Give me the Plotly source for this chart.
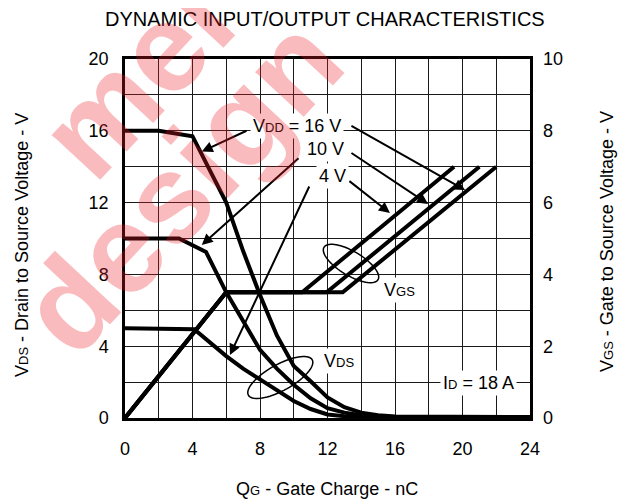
import numpy as np
import plotly.graph_objects as go

# ---------------- data ----------------
qg_vds_16 = [0, 2, 4, 6, 7, 8, 9, 10, 11, 12, 13, 14, 15, 16, 24]
vds_16 = [16, 16, 15.7, 12, 9.3, 6.85, 4.6, 2.9, 2.05, 1.15, 0.6, 0.3, 0.15, 0.08, 0.05]

qg_vds_10 = [0, 2, 3.2, 4.8, 6, 7, 8, 9, 10, 11, 12, 13, 14, 16, 24]
vds_10 = [10, 10, 10, 9.25, 7.0, 5.4, 3.8, 2.75, 1.85, 1.1, 0.55, 0.3, 0.15, 0.06, 0.05]

qg_vds_4 = [0, 2, 4.1, 6, 7, 8, 9, 10, 11, 12, 13, 14, 16, 24]
vds_4 = [5, 5, 4.95, 3.45, 2.75, 2.15, 1.55, 0.95, 0.5, 0.2, 0.1, 0.06, 0.05, 0.05]

qg_vgs_4 = [0, 6, 10.5, 19.5]
qg_vgs_10 = [0, 6, 11.95, 21.0]
qg_vgs_16 = [0, 6, 12.9, 22.0]
vgs_vals = [0, 3.5, 3.5, 7.0]

x_ticks = [0, 4, 8, 12, 16, 20, 24]
yl_ticks = [0, 4, 8, 12, 16, 20]
yr_ticks = [0, 2, 4, 6, 8, 10]

FONT = "Liberation Sans, Arial, sans-serif"
SUB = "<span style='font-size:13px'>%s</span>"

# page offset of the plotly div (body margin)
OFF = 8
# plot-area geometry on the page (pixels) used for decoration shapes
L, R, T, B = 125, 530, 59, 418
W, H = 629 - OFF, 504 - OFF
pxx = (R - L) / 24.0
pxy = (B - T) / 20.0

fig = go.Figure()
line = dict(color="black", width=4)
for xs, ys in [(qg_vds_16, vds_16), (qg_vds_10, vds_10), (qg_vds_4, vds_4)]:
    fig.add_trace(go.Scatter(x=xs, y=ys, mode="lines", line=line, yaxis="y",
                             showlegend=False, hoverinfo="skip"))
for xs in [qg_vgs_4, qg_vgs_10, qg_vgs_16]:
    fig.add_trace(go.Scatter(x=xs, y=vgs_vals, mode="lines", line=line, yaxis="y2",
                             showlegend=False, hoverinfo="skip"))


def ellipse_path(cx, cy, a, b, theta_deg):
    th = np.radians(theta_deg)
    t = np.linspace(0, 2 * np.pi, 73)
    sx = cx + a * np.cos(t) * np.cos(th) - b * np.sin(t) * np.sin(th)
    sy = cy + a * np.cos(t) * np.sin(th) + b * np.sin(t) * np.cos(th)
    xd = (sx - L) / pxx
    yd = (B - sy) / pxy
    pts = ["%s%.4f,%.4f" % ("M" if i == 0 else "L", xd[i], yd[i]) for i in range(len(t))]
    return " ".join(pts) + " Z"


shapes = [
    dict(type="path", xref="x", yref="y", path=ellipse_path(351, 263.5, 31.5, 12, 31),
         line=dict(color="black", width=1.5)),
    dict(type="path", xref="x", yref="y", path=ellipse_path(280.3, 377.5, 36.5, 13, -29),
         line=dict(color="black", width=1.5)),
]

ann = []
# arrows (head x,y ; tail ax,ay)
arrows = [
    (4.55, 14.84, 7.29, 16.04, "y"),
    (4.55, 9.64, 10.37, 14.54, "y"),
    (6.22, 3.51, 10.96, 12.98, "y"),
    (20.15, 6.35, 13.33, 8.16, "y2"),
    (17.96, 5.96, 13.33, 7.41, "y2"),
    (15.70, 5.71, 13.21, 6.63, "y2"),
]
for x, y, ax, ay, yr in arrows:
    ann.append(dict(x=x, y=y, ax=ax, ay=ay, xref="x", yref=yr, axref="x", ayref=yr,
                    text="", showarrow=True, arrowhead=2, arrowsize=1.1, arrowwidth=2,
                    arrowcolor="black", standoff=0))

lab_font = dict(family=FONT, size=18, color="black")
labels = [
    ("V" + SUB % "DD" + " = 16 V", 10.19, 16.27),
    ("10 V", 11.91, 14.99),
    ("4 V", 12.27, 13.48),
    ("V" + SUB % "GS", 16.24, 7.13),
    ("V" + SUB % "DS", 12.68, 3.18),
    ("I" + SUB % "D" + " = 18 A", 20.92, 1.95),
]
for txt, x, y in labels:
    ann.append(dict(x=x, y=y, xref="x", yref="y", text=txt, showarrow=False,
                    font=lab_font, bgcolor="white", borderpad=2,
                    xanchor="center", yanchor="middle"))


def px(xp):
    return (xp - L) / (R - L)


def py(yp):
    return (B - yp) / (B - T)


# axis titles & title
ann.append(dict(x=px(326.5), y=py(489), xref="paper", yref="paper",
                text="Q" + SUB % "G" + " - Gate Charge - nC", showarrow=False,
                font=lab_font, xanchor="center", yanchor="middle"))
ann.append(dict(x=px(22), y=py(245), xref="paper", yref="paper",
                text="V" + SUB % "DS" + " - Drain to Source Voltage - V", showarrow=False,
                textangle=-90, font=lab_font, xanchor="center", yanchor="middle"))
ann.append(dict(x=px(607), y=py(242), xref="paper", yref="paper",
                text="V" + SUB % "GS" + " - Gate to Source Voltage - V", showarrow=False,
                textangle=-90, font=lab_font, xanchor="center", yanchor="middle"))
ann.append(dict(x=px(325), y=py(19), xref="paper", yref="paper",
                text="DYNAMIC INPUT/OUTPUT CHARACTERISTICS", showarrow=False,
                font=dict(family=FONT, size=20, color="black"),
                xanchor="center", yanchor="middle"))

# watermark
wm_font = dict(family=FONT, size=125, color="rgba(240,30,40,0.3)")
ann.append(dict(x=px(135), y=py(78), xref="paper", yref="paper",
                text="<b>mel</b>", showarrow=False, textangle=-47, font=wm_font,
                xanchor="center", yanchor="middle"))
ann.append(dict(x=px(180), y=py(185), xref="paper", yref="paper",
                text="<b>design</b>", showarrow=False, textangle=-47, font=wm_font,
                xanchor="center", yanchor="middle"))

grid = "#1a1a1a"
tickfont = dict(family=FONT, size=18, color="black")
fig.update_layout(
    width=W, height=H,
    margin=dict(l=L - OFF, r=W - (R - OFF), t=T - OFF, b=H - (B - OFF), pad=0,
                autoexpand=False),
    paper_bgcolor="white", plot_bgcolor="white",
    showlegend=False,
    xaxis=dict(range=[0, 24], tickmode="array", tickvals=x_ticks,
               showgrid=True, gridcolor=grid, gridwidth=1,
               minor=dict(dtick=2, tick0=0, showgrid=True, gridcolor=grid, gridwidth=1),
               showline=True, linecolor="black", linewidth=2.5, mirror=True,
               zeroline=False, ticks="", tickfont=tickfont, ticklabelstandoff=13),
    yaxis=dict(range=[0, 20], tickmode="array", tickvals=yl_ticks,
               showgrid=True, gridcolor=grid, gridwidth=1,
               minor=dict(dtick=2, tick0=0, showgrid=True, gridcolor=grid, gridwidth=1),
               showline=True, linecolor="black", linewidth=2.5, mirror=True,
               zeroline=False, ticks="", tickfont=tickfont, ticklabelstandoff=10),
    yaxis2=dict(range=[0, 10], tickmode="array", tickvals=yr_ticks, overlaying="y",
                side="right", showgrid=False, zeroline=False, showline=False,
                ticks="", tickfont=tickfont, ticklabelstandoff=12),
    shapes=shapes,
    annotations=ann,
)

fig.write_html("out.html")
